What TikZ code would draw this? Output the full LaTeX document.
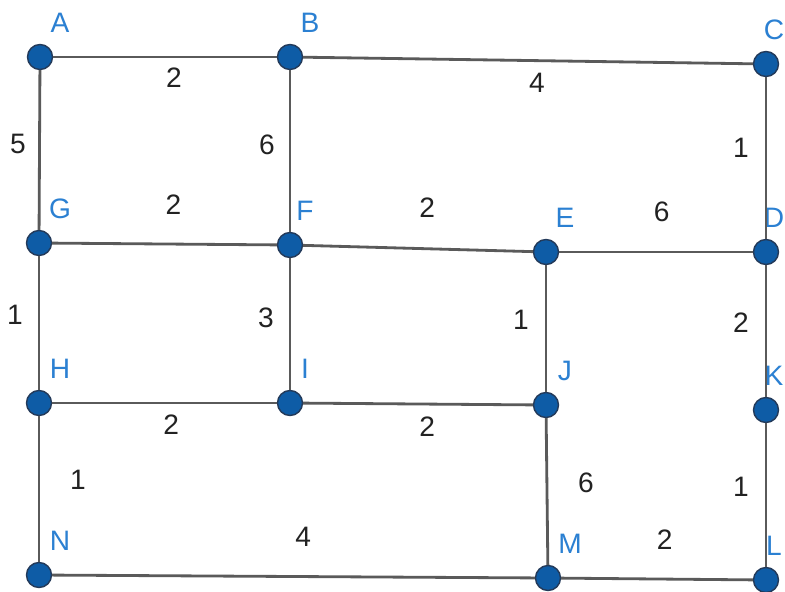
\documentclass[tikz,border=0pt]{standalone}
\usepackage{fontspec}
\setmainfont{Liberation Sans}
\usetikzlibrary{calc}
\definecolor{Dot}{HTML}{0E5CA6}
\definecolor{DotRim}{HTML}{233A5A}
\definecolor{Tag}{HTML}{2B80D2}
\definecolor{Wire}{HTML}{5A5A5A}
\definecolor{Num}{HTML}{222222}
\tikzset{
  vertex/.style={
    circle, fill=Dot, draw=DotRim, thick, minimum size=0.5cm, inner sep=0pt
  },
  tag/.style={text=Tag, font=\fontsize{16}{18}\selectfont, inner sep=0pt},
  weight/.style={text=Num, font=\fontsize{16}{18}\selectfont, inner sep=0pt},
  wire/.style={draw=Wire, line width=1.6pt}
}

\begin{document}
\begin{tikzpicture}
    \path[use as bounding box,clip] (0,0) rectangle (15.7,11.82);
    \fill[white] (0,0) rectangle (15.7,11.82);
    % vertices
    \node[vertex] (A) at (0.80,10.68) {};
    \node[vertex] (B) at (5.80,10.68) {};
    \node[vertex] (C) at (15.32,10.54) {};
    \node[vertex] (G) at (0.78,6.96) {};
    \node[vertex] (F) at (5.80,6.92) {};
    \node[vertex] (E) at (10.92,6.78) {};
    \node[vertex] (D) at (15.32,6.78) {};
    \node[vertex] (H) at (0.78,3.76) {};
    \node[vertex] (I) at (5.80,3.76) {};
    \node[vertex] (J) at (10.92,3.72) {};
    \node[vertex] (K) at (15.32,3.62) {};
    \node[vertex] (N) at (0.78,0.32) {};
    \node[vertex] (M) at (10.96,0.26) {};
    \node[vertex] (L) at (15.32,0.22) {};
    % vertex names
    \foreach \v/\dx in {A/0.40,B/0.40,C/0.16,G/0.42,F/0.30,E/0.38,D/0.16,
                        H/0.42,I/0.30,J/0.38,K/0.16,N/0.42,M/0.44,L/0.16}
      \node[tag] (\v-tag) at ($(\v)+(\dx,0.68)$) {\v};
    % edges with weights
    \draw[wire] (A) -- node[weight,pos=.54,yshift=-0.42cm] (wAB) {2} (B);
    \draw[wire] (B) -- node[weight,pos=.52,yshift=-0.45cm] (wBC) {4} (C);
    \draw[wire] (A) -- node[weight,pos=.46,xshift=-0.43cm] (wAG) {5} (G);
    \draw[wire] (B) -- node[weight,pos=.46,xshift=-0.46cm] (wBF) {6} (F);
    \draw[wire] (C) -- node[weight,pos=.44,xshift=-0.50cm] (wCD) {1} (D);
    \draw[wire] (G) -- node[weight,pos=.54,yshift=0.78cm] (wGF) {2} (F);
    \draw[wire] (F) -- node[weight,pos=.54,yshift=0.82cm] (wFE) {2} (E);
    \draw[wire] (E) -- node[weight,pos=.53,yshift=0.80cm] (wED) {6} (D);
    \draw[wire] (G) -- node[weight,pos=.44,xshift=-0.48cm] (wGH) {1} (H);
    \draw[wire] (F) -- node[weight,pos=.45,xshift=-0.48cm] (wFI) {3} (I);
    \draw[wire] (E) -- node[weight,pos=.43,xshift=-0.50cm] (wEJ) {1} (J);
    \draw[wire] (D) -- node[weight,pos=.44,xshift=-0.50cm] (wDK) {2} (K);
    \draw[wire] (H) -- node[weight,pos=.53,yshift=-0.44cm] (wHI) {2} (I);
    \draw[wire] (I) -- node[weight,pos=.54,yshift=-0.46cm] (wIJ) {2} (J);
    \draw[wire] (H) -- node[weight,pos=.44,xshift=0.78cm] (wHN) {1} (N);
    \draw[wire] (J) -- node[weight,pos=.44,xshift=0.78cm] (wJM) {6} (M);
    \draw[wire] (K) -- node[weight,pos=.44,xshift=-0.50cm] (wKL) {1} (L);
    \draw[wire] (N) -- node[weight,pos=.52,yshift=0.80cm] (wNM) {4} (M);
    \draw[wire] (M) -- node[weight,pos=.54,yshift=0.78cm] (wML) {2} (L);
  \end{tikzpicture}
\end{document}
